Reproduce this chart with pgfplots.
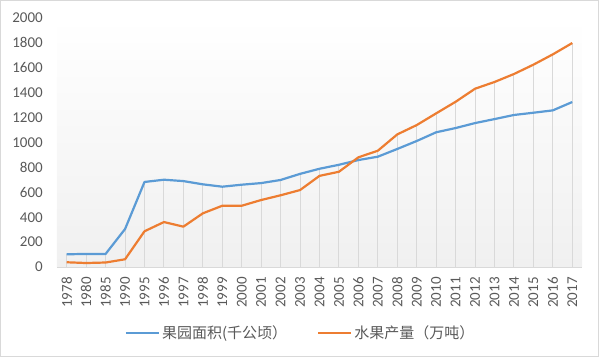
\documentclass[border=0pt]{standalone}
\usepackage{pgfplots}
\pgfplotsset{compat=1.18}
\usepackage{fontspec}
\setmainfont{Carlito}
\newfontfamily\cjk{Noto Sans CJK SC}
\definecolor{bluel}{HTML}{5B9BD5}
\definecolor{orangel}{HTML}{ED7D31}
\definecolor{txt}{HTML}{595959}
\definecolor{gridc}{HTML}{D9D9D9}
\definecolor{bgc}{HTML}{F0F0F0}
\definecolor{borderc}{HTML}{D9D9D9}
\begin{document}
\begin{tikzpicture}[x=1pt,y=1pt]
\path[use as bounding box] (0,0) rectangle (600,358);
\draw[borderc, line width=1pt] (0.8,1.5) rectangle (598,357.2);
\begin{axis}[
  at={(57pt,91pt)}, anchor=south west,
  scale only axis, width=525pt, height=249pt,
  xmin=-0.5, xmax=26.5, ymin=0, ymax=2000,
  ytick={0,200,...,2000},
  xtick={0,...,26},
  xticklabels={1978,1980,1985,1990,1995,1996,1997,1998,1999,2000,2001,2002,2003,2004,2005,2006,2007,2008,2009,2010,2011,2012,2013,2014,2015,2016,2017},
  major tick length=0pt,
  axis lines=left,
  axis line style={draw=none,-},
  x axis line style={draw=gridc, line width=0.9pt},
  tick label style={font=\fontsize{15}{16}\selectfont, text=txt},
  yticklabel style={inner sep=0pt, anchor=east, xshift=-14pt},
  xticklabel style={inner sep=0pt, rotate=90, anchor=east, xshift=-10pt},
  /pgf/number format/assume math mode=true,
  yticklabel={\pgfmathprintnumber[1000 sep={}]{\tick}},
  axis background/.style={top color=white, bottom color=bgc},
  legend columns=2,
  legend style={at={(0.464,-0.265)}, anchor=center, draw=none, fill=none,
    font=\cjk\fontsize{15}{16}\selectfont, text=txt,
    /tikz/every even column/.append style={column sep=28pt}},
  legend cell align=left,
  legend image code/.code={\draw[#1] (0pt,0pt) -- (33pt,0pt);},
  clip=false,
]
\addplot[ycomb, gridc, line width=0.9pt, forget plot] coordinates {
(0,102)(1,105)(2,105)(3,305)(4,683)(5,701)(6,690)(7,664)(8,645)(9,661)(10,674)(11,699)(12,748)(13,789)(14,821)(15,859)(16,886)(17,948)(18,1012)(19,1082)(20,1116)(21,1156)(22,1188)(23,1221)(24,1239)(25,1258)(26,1325)};
\addplot[ycomb, gridc, line width=0.9pt, forget plot] coordinates {
(0,38)(1,32)(2,36)(3,62)(4,287)(5,361)(6,324)(7,431)(8,492)(9,492)(10,538)(11,576)(12,618)(13,732)(14,765)(15,881)(16,934)(17,1065)(18,1140)(19,1234)(20,1327)(21,1432)(22,1486)(23,1550)(24,1625)(25,1708)(26,1799)};
\addplot[bluel, line width=2.2pt, line join=round] coordinates {
(0,102)(1,105)(2,105)(3,305)(4,683)(5,701)(6,690)(7,664)(8,645)(9,661)(10,674)(11,699)(12,748)(13,789)(14,821)(15,859)(16,886)(17,948)(18,1012)(19,1082)(20,1116)(21,1156)(22,1188)(23,1221)(24,1239)(25,1258)(26,1325)};
\addlegendentry{果园面积(千公顷）}
\addplot[orangel, line width=2.2pt, line join=round] coordinates {
(0,38)(1,32)(2,36)(3,62)(4,287)(5,361)(6,324)(7,431)(8,492)(9,492)(10,538)(11,576)(12,618)(13,732)(14,765)(15,881)(16,934)(17,1065)(18,1140)(19,1234)(20,1327)(21,1432)(22,1486)(23,1550)(24,1625)(25,1708)(26,1799)};
\addlegendentry{水果产量（万吨）}
\end{axis}
\end{tikzpicture}
\end{document}
